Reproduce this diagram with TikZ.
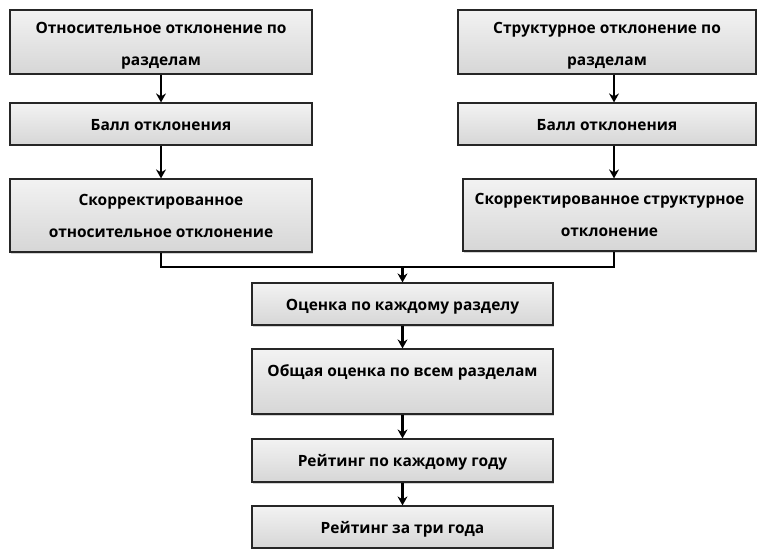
\documentclass[tikz,border=0pt]{standalone}
\usepackage{fontspec}
\setmainfont{Open Sans}
\usetikzlibrary{arrows.meta,shadows}

\begin{document}
\begin{tikzpicture}[x=1pt,y=-1pt,
        box/.style={draw=black!85, line width=1.2pt, top color=gray!10, bottom color=gray!32,
            drop shadow={shadow xshift=0.8pt,shadow yshift=-1.5pt,opacity=0.35},
            align=center, inner sep=0pt, font=\bfseries\fontsize{15.5}{32}\selectfont},
        oneline/.style={text height=22.4pt, text depth=9.6pt},
        link/.style={line width=2.5pt, -{Stealth[length=9pt,width=10pt,inset=3pt]}}]
    \useasboundingbox (0,0) rectangle (759,548);

    % left column
    \node[box, minimum width=302pt, minimum height=64pt] (otn) at (161,42) {\rule{0pt}{18pt}Относительное отклонение по\\разделам};
    \node[box, oneline, minimum width=302pt, minimum height=42pt] (ballL) at (161,124) {Балл отклонения};
    \node[box, minimum width=302pt, minimum height=73pt] (korrL) at (161,215.5) {Скорректированное\\относительное отклонение};

    % right column
    \node[box, minimum width=298pt, minimum height=64pt] (strukt) at (607,42) {\rule{0pt}{18pt}Структурное отклонение по\\разделам};
    \node[box, oneline, minimum width=298pt, minimum height=42pt] (ballR) at (607,124) {Балл отклонения};
    \node[box, minimum width=293pt, minimum height=72pt] (korrR) at (609.5,215) {Скорректированное структурное\\отклонение};

    % middle column
    \node[box, oneline, minimum width=301pt, minimum height=42pt] (ocenka) at (402.5,304) {Оценка по каждому разделу};
    \node[box, minimum width=301pt, minimum height=65pt] (obshaya) at (402.5,381.5) {\rule{0pt}{21pt}Общая оценка по всем разделам\\\mbox{}};
    \node[box, oneline, minimum width=301pt, minimum height=43pt] (reitGod) at (402.5,460.5) {Рейтинг по каждому году};
    \node[box, oneline, minimum width=301pt, minimum height=42pt] (reitTri) at (402.5,527) {Рейтинг за три года};

    \coordinate (rx) at (614,0);
    \coordinate (jn) at (402.5,267);

    \draw[link] (otn) -- (ballL);
    \draw[link] (ballL) -- (korrL);
    \draw[link] (strukt.south -| rx) -- (ballR.north -| rx);
    \draw[link] (ballR.south -| rx) -- (korrR.north -| rx);

    % merge both branches
    \draw[line width=2.5pt] (korrL.south) |- (jn) -| (korrR.south -| rx);
    \draw[link] (jn) -- (ocenka);
    \draw[link] (ocenka) -- (obshaya);
    \draw[link] (obshaya) -- (reitGod);
    \draw[link] (reitGod) -- (reitTri);
\end{tikzpicture}
\end{document}
